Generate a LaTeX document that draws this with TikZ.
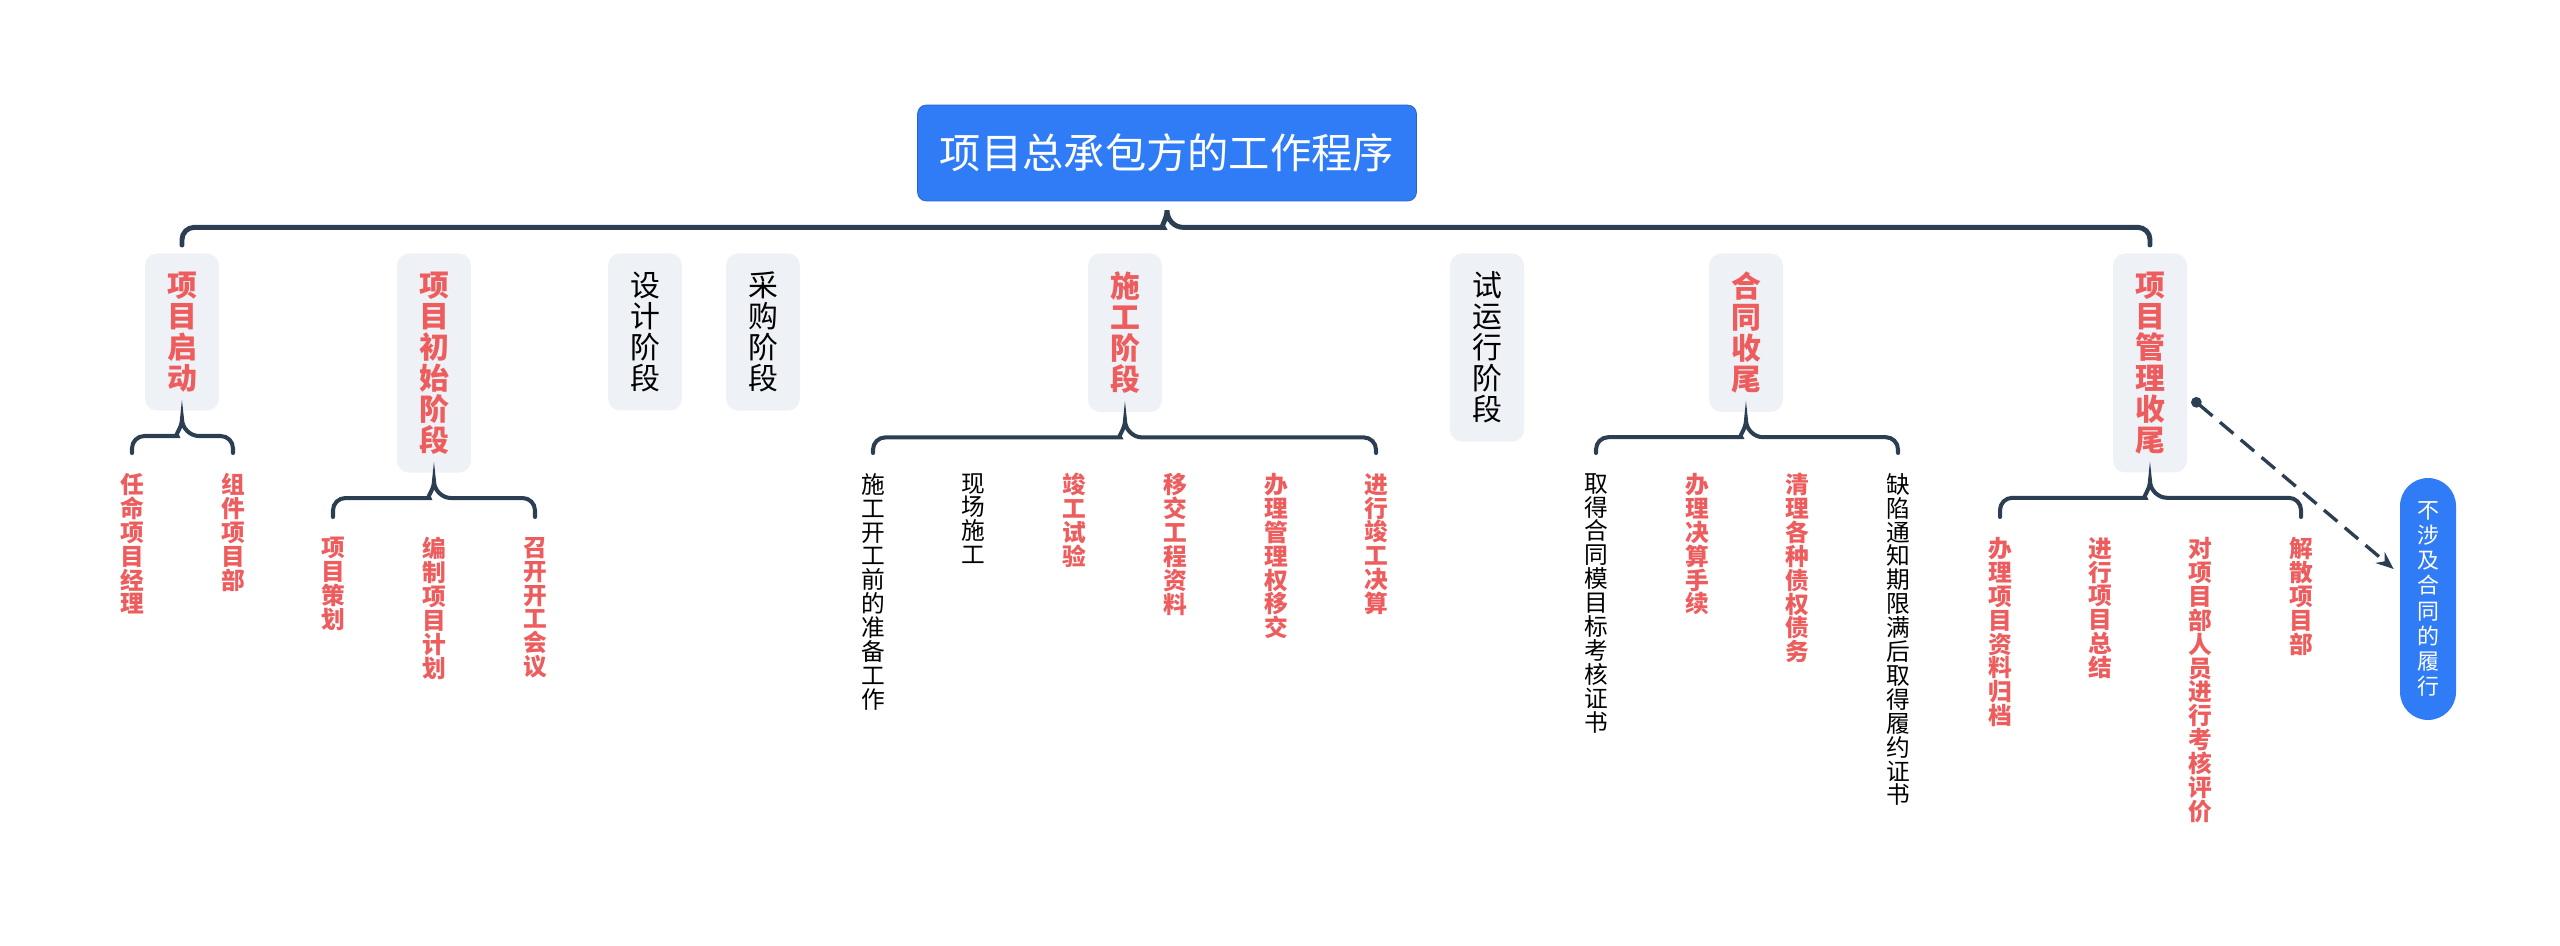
\documentclass[tikz,border=0pt]{standalone}
\usepackage{fontspec}
\newfontfamily\cjk{Noto Sans CJK SC}
\usetikzlibrary{calc,arrows.meta}

% let CJK lines break between any two characters
\XeTeXlinebreaklocale "zh"
\XeTeXlinebreakskip=0pt plus 1pt

\definecolor{rootblue}{HTML}{2F7CF6}
\definecolor{stagegray}{HTML}{EEF1F5}
\definecolor{leafred}{HTML}{EE5D5E}
\definecolor{bracenavy}{HTML}{2C3E52}

\begin{document}
\begin{tikzpicture}[x=0.02cm,y=0.02cm]

    \useasboundingbox (0,0) rectangle (2560,-946);

    % let's define some key values
    \def\ystage{-253}
    \def\yleaf{-461}
    \def\ylowleaf{-525}

    % Styles
    \tikzstyle{root}=[fill=rootblue, draw=rootblue!80!black, line width=0.4pt,
        rounded corners=5pt, text=white,
        minimum width=9.98cm, minimum height=1.92cm,
        font=\cjk\fontsize{23.5}{26}\selectfont]
    \tikzstyle{stage}=[fill=stagegray, rounded corners=7pt, anchor=north,
        minimum width=1.48cm, text width=18pt, align=center, inner ysep=10.6pt,
        font=\cjk\fontsize{17}{17.6}\selectfont]
    \tikzstyle{leaf}=[anchor=north, text width=14pt, align=center,
        inner xsep=0pt, inner ysep=6.8pt,
        font=\cjk\fontsize{13.5}{13.6}\selectfont]
    \tikzstyle{hot}=[text=leafred, execute at begin node=\bfseries]
    \tikzstyle{side}=[fill=rootblue, text=white, rounded corners=0.56cm,
        minimum width=1.12cm, minimum height=4.84cm, text width=14pt,
        align=center, font=\cjk\fontsize{12.5}{14.3}\selectfont]
    \tikzstyle{brace}=[draw=bracenavy, line width=2.3pt, line cap=round]
    \tikzstyle{mainbrace}=[brace, line width=2.8pt]
    \tikzstyle{link}=[draw=bracenavy, line width=1.9pt,
        dash pattern=on 10pt off 5.5pt,
        {Circle[length=6pt]}-{Stealth[length=10pt,width=8pt]}]

    % root
    \node[root] (root) at (1167,-153) {项目总承包方的工作程序};

    % stages
    \node[stage, hot] (start) at (182,\ystage) {项目启动};
    \node[stage, hot] (init) at (434,\ystage) {项目初始阶段};
    \node[stage] (design) at (645,\ystage) {设计阶段};
    \node[stage] (purchase) at (763,\ystage) {采购阶段};
    \node[stage, hot] (build) at (1125,\ystage) {施工阶段};
    \node[stage] (trial) at (1487,\ystage) {试运行阶段};
    \node[stage, hot] (close) at (1746,\ystage) {合同收尾};
    \node[stage, hot] (wrapup) at (2150,\ystage) {项目管理收尾};

    % project start
    \node[leaf, hot] (start1) at (132,\yleaf) {任命项目经理};
    \node[leaf, hot] (start2) at (233,\yleaf) {组件项目部};

    % initial stage
    \node[leaf, hot] (init1) at (333,\ylowleaf) {项目策划};
    \node[leaf, hot] (init2) at (434,\ylowleaf) {编制项目计划};
    \node[leaf, hot] (init3) at (535,\ylowleaf) {召开开工会议};

    % construction stage
    \node[leaf] (build1) at (873,\yleaf) {施工开工前的准备工作};
    \node[leaf] (build2) at (973,\yleaf) {现场施工};
    \node[leaf, hot] (build3) at (1074,\yleaf) {竣工试验};
    \node[leaf, hot] (build4) at (1175,\yleaf) {移交工程资料};
    \node[leaf, hot] (build5) at (1276,\yleaf) {办理管理权移交};
    \node[leaf, hot] (build6) at (1376,\yleaf) {进行竣工决算};

    % contract closing
    \node[leaf] (close1) at (1596,\yleaf) {取得合同模目标考核证书};
    \node[leaf, hot] (close2) at (1697,\yleaf) {办理决算手续};
    \node[leaf, hot] (close3) at (1797,\yleaf) {清理各种债权债务};
    \node[leaf] (close4) at (1898,\yleaf) {缺陷通知期限满后取得履约证书};

    % management closing
    \node[leaf, hot] (wrapup1) at (2000,\ylowleaf) {办理项目资料归档};
    \node[leaf, hot] (wrapup2) at (2100,\ylowleaf) {进行项目总结};
    \node[leaf, hot] (wrapup3) at (2200,\ylowleaf) {对项目部人员进行考核评价};
    \node[leaf, hot] (wrapup4) at (2301,\ylowleaf) {解散项目部};

    % floating topic
    \node[side] (side) at (2428,-599) {不涉及合同的履行};

    % main brace
    \draw[mainbrace] [rounded corners=7pt] ($(start.north)+(0,8)$) |- ($(root.south)+(-16,-26)$)
        [sharp corners] .. controls +(9,0) and +(0,-9) .. ($(root.south)+(0,-9)$)
        .. controls +(0,-9) and +(-9,0) .. ($(root.south)+(16,-26)$)
        [rounded corners=7pt] -| ($(wrapup.north)+(0,8)$);

    % project start brace
    \draw[brace] [rounded corners=7pt] ($(start1.north)+(0,8)$) |- ($(start.south)+(-17,-25)$)
        [sharp corners] .. controls +(9,0) and +(0,-9) .. ($(start.south)+(0,-8)$)
        .. controls +(0,-9) and +(-9,0) .. ($(start.south)+(17,-25)$)
        [rounded corners=7pt] -| ($(start2.north)+(0,8)$);

    % initial stage brace
    \draw[brace] [rounded corners=7pt] ($(init1.north)+(0,8)$) |- ($(init.south)+(-17,-25)$)
        [sharp corners] .. controls +(9,0) and +(0,-9) .. ($(init.south)+(0,-8)$)
        .. controls +(0,-9) and +(-9,0) .. ($(init.south)+(17,-25)$)
        [rounded corners=7pt] -| ($(init3.north)+(0,8)$);

    % construction brace
    \draw[brace] [rounded corners=7pt] ($(build1.north)+(0,8)$) |- ($(build.south)+(-17,-25)$)
        [sharp corners] .. controls +(9,0) and +(0,-9) .. ($(build.south)+(0,-8)$)
        .. controls +(0,-9) and +(-9,0) .. ($(build.south)+(17,-25)$)
        [rounded corners=7pt] -| ($(build6.north)+(0,8)$);

    % contract closing brace
    \draw[brace] [rounded corners=7pt] ($(close1.north)+(0,8)$) |- ($(close.south)+(-17,-25)$)
        [sharp corners] .. controls +(9,0) and +(0,-9) .. ($(close.south)+(0,-8)$)
        .. controls +(0,-9) and +(-9,0) .. ($(close.south)+(17,-25)$)
        [rounded corners=7pt] -| ($(close4.north)+(0,8)$);

    % management closing brace
    \draw[brace] [rounded corners=7pt] ($(wrapup1.north)+(0,8)$) |- ($(wrapup.south)+(-17,-25)$)
        [sharp corners] .. controls +(9,0) and +(0,-9) .. ($(wrapup.south)+(0,-8)$)
        .. controls +(0,-9) and +(-9,0) .. ($(wrapup.south)+(17,-25)$)
        [rounded corners=7pt] -| ($(wrapup4.north)+(0,8)$);

    % relation to the floating topic
    \draw[link] ([shift={(5,-36)}]wrapup.east) -- ([shift={(-6,30)}]side.west);

\end{tikzpicture}
\end{document}
